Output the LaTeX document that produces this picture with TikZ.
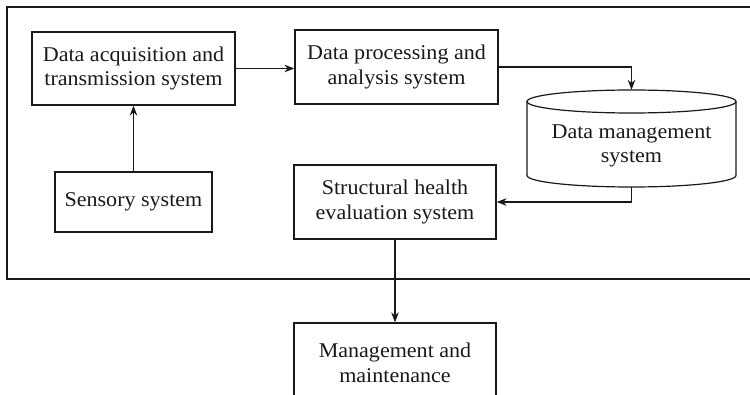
\documentclass[tikz,border=0pt]{standalone}
\usepackage{fontspec}
\setmainfont{Liberation Serif}[FakeStretch=1.05]
\usetikzlibrary{arrows.meta}
\begin{document}
\begin{tikzpicture}[x=1pt,y=-1pt,
  txt/.style={inner sep=0pt, align=center, font=\fontsize{21}{24.5}\selectfont, text=black!90},
  box/.style={txt, draw=black!90, line width=1.2pt},
  arr/.style={draw=black!90, line width=1.1pt, -{Stealth[length=10pt,width=7.5pt]}},
  ]
\clip (0,0) rectangle (750,395);
\draw[draw=black!90, line width=1.5pt] (760,7) -- (7,7) -- (7,279) -- (760,279);
\node[box, minimum width=203pt, minimum height=73pt] (acq) at (133.5,68.5) {Data acquisition and\\transmission system};
\node[box, minimum width=203pt, minimum height=74pt] (proc) at (396.5,67) {Data processing and\\analysis system};
\node[box, minimum width=157pt, minimum height=60pt] (sens) at (133.5,202) {Sensory system};
\node[box, minimum width=202pt, minimum height=74pt] (she) at (395,202) {Structural health\\evaluation system};
\node[box, minimum width=202pt, minimum height=80pt] (mm) at (395,363) {Management and\\maintenance};
% cylinder
\node[minimum width=209pt, minimum height=97pt, inner sep=0pt] (dm) at (631.5,138.5) {};
\draw[draw=black!90, line width=1.2pt] (527,101.5) -- (527,175.5) arc[start angle=180, end angle=360, x radius=104.5pt, y radius=11.5pt] -- (736,101.5);
\draw[draw=black!90, line width=1.2pt] (631.5,101.5) ellipse [x radius=104.5pt, y radius=11.5pt];
\node[txt] (dmt) at (631.5,146) {Data management\\system};
% connectors
\draw[arr] (sens.north) -- (acq.south);
\draw[arr] (acq.east) -- (acq.east -| proc.west);
\draw[arr] (proc.east) -| (dm.north);
\draw[arr] (dm.south) |- (she.east);
\draw[arr] (she.south) -- (mm.north);
\end{tikzpicture}
\end{document}
